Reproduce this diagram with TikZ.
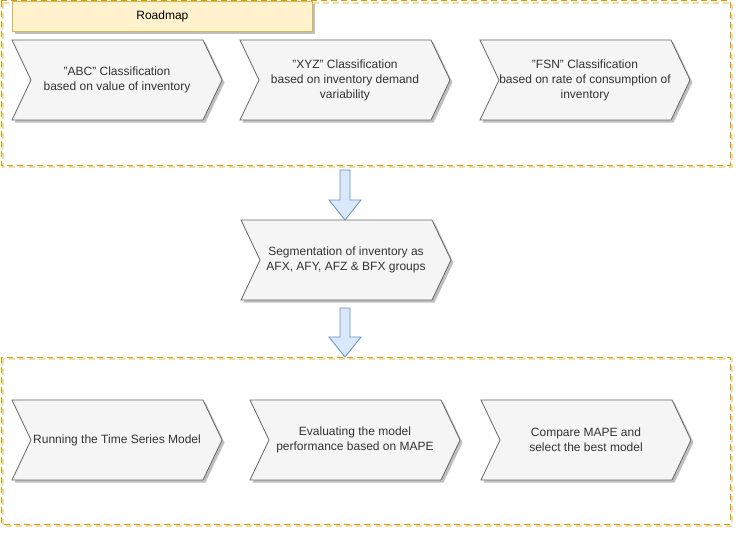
\documentclass[tikz,border=0pt]{standalone}
\usepackage{fontspec}
\setmainfont{Liberation Sans}
\usetikzlibrary{shadows}
\definecolor{chevfill}{HTML}{F5F5F5}
\definecolor{chevline}{HTML}{666666}
\definecolor{txt}{HTML}{333333}
\definecolor{rmfill}{HTML}{FFF2CC}
\definecolor{rmline}{HTML}{D6B656}
\definecolor{cont}{HTML}{D79B00}
\definecolor{arrfill}{HTML}{DAE8FC}
\definecolor{arrline}{HTML}{6C8EBF}
\tikzset{
  shad/.style={drop shadow={shadow xshift=2.5pt,shadow yshift=-2.5pt,opacity=0.25,fill=black}},
  chev/.style={draw=chevline,fill=chevfill,line width=0.8pt,line join=miter,shad},
  chevtext/.style={align=center,text=txt,font=\fontsize{12}{15}\selectfont,inner sep=0pt},
  container/.style={draw=cont,line width=1pt,dash pattern=on 6pt off 4pt},
  contshadow/.style={draw=cont!35,line width=1.2pt,dash pattern=on 6pt off 4pt},
  roadmap/.style={draw=rmline,fill=rmfill,line width=0.8pt,shad,minimum width=300pt,minimum height=30pt,inner sep=0pt,anchor=north west,text=black,font=\fontsize{12}{15}\selectfont},
  blockarrow/.style={draw=arrline,fill=arrfill,line width=0.8pt,line join=miter},
}
\newcommand{\mkchev}[4]{%
  \path[chev] (#2,#3) -- ++(191,0) -- ++(19,40) -- ++(-19,40) -- ++(-191,0) -- ++(19,-40) -- cycle;
  \node[chevtext] (#1) at ({#2+105},{#3+40}) {#4};}
\newcommand{\mkarrow}[2]{% name (top centre coordinate), shaft length
  \path[blockarrow] (#1) ++(-5,0) -- ++(10,0) -- ++(0,#2) -- ++(11,0) -- ++(-16,20) -- ++(-16,-20) -- ++(11,0) -- cycle;}
\begin{document}
\begin{tikzpicture}[x=1pt,y=-1pt]
  \useasboundingbox (0,0) rectangle (742,535);
  % containers
  \draw[contshadow] (3,3) rectangle (732,167);
  \draw[container] (1,1) rectangle (730,165);
  \draw[contshadow] (3,359) rectangle (732,526);
  \draw[container] (1,357) rectangle (730,524);
  % roadmap label
  \node[roadmap] (rm) at (12,1) {Roadmap};
  % row 1
  \mkchev{abc}{12}{40}{"ABC" Classification\\based on value of inventory}
  \mkchev{xyz}{240}{40}{"XYZ" Classification\\based on inventory demand\\variability}
  \mkchev{fsn}{480}{40}{"FSN" Classification\\based on rate of consumption of\\inventory}
  % middle
  \mkchev{seg}{241}{220}{Segmentation of inventory as\\AFX, AFY, AFZ \& BFX groups}
  % row 3
  \mkchev{run}{12}{400}{Running the Time Series Model}
  \mkchev{eval}{250}{400}{Evaluating the model\\performance based on MAPE}
  \mkchev{cmp}{481}{400}{Compare MAPE and\\select the best model}
  % block arrows
  \coordinate (a1) at (345,170);
  \coordinate (a2) at (345,308);
  \mkarrow{a1}{30}
  \mkarrow{a2}{29}
\end{tikzpicture}
\end{document}
